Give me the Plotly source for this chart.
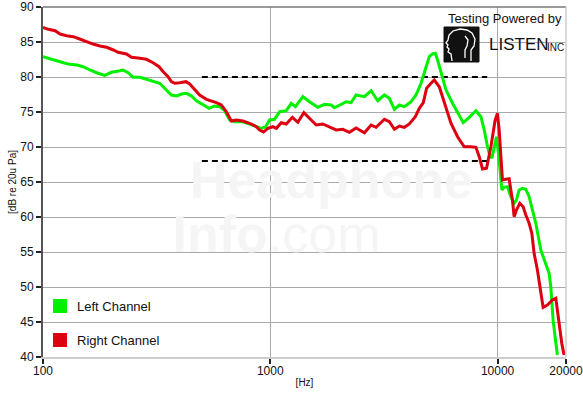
import plotly.graph_objects as go

# ---------------- data ----------------
left_freq = [100, 107, 115, 123, 131, 141, 150, 161, 172, 187, 200, 218, 225, 237, 249, 267, 285, 310, 326,
             343, 367, 387, 407, 428, 450, 473, 506, 538, 569, 599, 630, 663, 697, 758, 811, 868, 913, 954,
             993, 1044, 1099, 1176, 1237, 1291, 1391, 1488, 1618, 1732, 1853, 1916, 2050, 2157, 2268, 2386,
             2595, 2777, 2969, 3177, 3341, 3515, 3698, 3889, 4163, 4378, 4605, 4843, 5007, 5177, 5321, 5446,
             5636, 5929, 6338, 6667, 7063, 7503, 8028, 8447, 8734, 9030, 9186, 9441, 9663, 9890, 10092, 10266,
             10445, 10690, 11052, 11438, 11826, 12105, 12440, 12863, 13314, 13766, 14233, 14730, 15495, 16298,
             16852, 17145, 17320, 17549, 17906, 18328]
left_db = [82.9, 82.67, 82.33, 82.04, 81.81, 81.71, 81.47, 81.0, 80.61, 80.24, 80.67, 80.9, 81.0, 80.61, 79.96,
           79.96, 79.71, 79.39, 79.1, 78.39, 77.43, 77.29, 77.57, 77.67, 77.29, 76.61, 76.0, 75.53, 75.86, 75.76,
           75.19, 73.86, 73.61, 73.61, 73.29, 72.9, 72.67, 72.9, 73.86, 73.96, 75.04, 75.19, 76.24, 75.76, 77.19,
           76.47, 75.67, 76.1, 76.0, 75.61, 76.14, 76.47, 76.33, 77.43, 77.19, 78.04, 76.61, 77.43, 76.96, 75.39,
           76.0, 75.76, 76.47, 77.43, 79.1, 81.24, 82.9, 83.29, 83.39, 82.43, 80.53, 78.14, 76.24, 75.04, 73.47,
           74.24, 75.19, 74.33, 72.43, 70.04, 69.1, 68.39, 70.04, 71.47, 69.1, 66.24, 63.86, 64.24, 64.33, 62.9,
           61.96, 62.43, 63.86, 64.1, 63.96, 62.9, 61.0, 59.1, 55.29, 53.39, 51.96, 50.04, 47.19, 45.29, 42.9,
           40.29]

right_freq = [100, 105.5, 113, 119, 127, 136, 145, 156, 166, 178, 190.5, 204, 214, 233, 245, 267, 285, 305, 324,
              338, 355, 367, 380, 400, 425, 442, 465, 489, 523.5, 551, 579, 609, 641, 674, 709, 758, 811, 868,
              897, 934, 976, 1027, 1063, 1118, 1176, 1250, 1322, 1405, 1488, 1592, 1702, 1853, 1949, 2084, 2230,
              2386, 2595, 2777, 2921, 3177, 3341, 3515, 3698, 3889, 4091, 4346, 4527, 4713, 4872, 5093, 5266,
              5541, 5828, 6236, 6667, 7135, 7632, 8028, 8303, 8584, 8940, 9345, 9760, 9991, 10162, 10339, 10507,
              10875, 11244, 11438, 11625, 11826, 12105, 12527, 12953, 13314, 13766, 14149, 14478, 14970, 15495,
              15860, 16564, 17426, 18040, 18328, 18646, 19160, 19611]
right_db = [87.1, 86.81, 86.61, 86.14, 85.9, 85.76, 85.43, 85.0, 84.71, 84.43, 84.24, 83.86, 83.53, 83.29, 82.81,
            82.67, 82.53, 82.04, 81.47, 80.76, 80.04, 79.33, 79.1, 79.19, 79.33, 79.0, 78.14, 77.43, 76.81, 76.61,
            76.33, 76.0, 75.04, 73.71, 73.86, 73.71, 73.39, 72.9, 72.43, 72.14, 72.67, 72.9, 72.67, 73.47, 73.29,
            74.24, 73.53, 74.9, 74.1, 73.14, 73.29, 72.81, 72.43, 72.53, 72.1, 72.71, 72.04, 73.14, 72.81, 73.96,
            73.61, 72.53, 73.0, 72.81, 73.29, 74.33, 75.53, 76.33, 78.39, 79.1, 79.57, 78.61, 76.24, 73.39, 71.47,
            70.04, 70.04, 69.96, 68.61, 66.86, 66.96, 70.04, 73.86, 74.81, 72.43, 68.14, 65.29, 65.39, 65.47, 63.86,
            62.43, 60.04, 61.0, 61.96, 61.47, 60.29, 59.1, 57.67, 54.81, 52.43, 49.57, 47.1, 47.43, 48.14, 48.39,
            46.71, 44.33, 41.96, 40.29]

ref_freq = [500, 9000]
ref_upper_db = [80, 80]
ref_lower_db = [68, 68]

y_ticks = [40, 45, 50, 55, 60, 65, 70, 75, 80, 85, 90]
x_ticks = [100, 1000, 10000, 20000]
x_tick_labels = ["100", "1000", "10000", "20000"]

series_names = ["Left Channel", "Right Channel"]
GREEN = "#00f000"
RED = "#dd0011"

FONT = "Liberation Sans, Arial, sans-serif"

fig = go.Figure()

# faint watermark (drawn first so it sits under the curves)
fig.add_trace(go.Scatter(
    x=[1858, 1066], y=[64.6, 56.9], mode="text",
    text=["<b>Headphone</b>", "<b>Info</b>.com"],
    textfont=dict(family=FONT, size=52, color="#f5f5f5"),
    hoverinfo="skip", showlegend=False))

# reference dashed lines
for ydb in (ref_upper_db, ref_lower_db):
    fig.add_trace(go.Scatter(x=ref_freq, y=ydb, mode="lines",
                             line=dict(color="black", width=2, dash="6px,4px"),
                             hoverinfo="skip", showlegend=False))

fig.add_trace(go.Scatter(x=left_freq, y=left_db, mode="lines", name=series_names[0],
                         line=dict(color=GREEN, width=3), showlegend=False))
fig.add_trace(go.Scatter(x=right_freq, y=right_db, mode="lines", name=series_names[1],
                         line=dict(color=RED, width=3), showlegend=False))

W, H = 583, 395
L, R, T, B = 43, 17, 7, 38

fig.update_layout(
    width=W, height=H,
    margin=dict(l=L, r=R, t=T, b=B, autoexpand=False),
    paper_bgcolor="white", plot_bgcolor="white",
    font=dict(family=FONT, size=12, color="#111"),
    showlegend=False,
    xaxis=dict(type="log", range=[2, 4.30103], tickvals=x_ticks, ticktext=x_tick_labels,
               showgrid=True, gridcolor="#aaaaaa", gridwidth=1,
               ticks="outside", ticklen=5, tickwidth=1.5, tickcolor="#222",
               showline=True, linecolor="#cccccc", linewidth=1.5,
               zeroline=False, automargin=False, ticklabelstandoff=-3,
               ticklabeloverflow="allow",
               tickfont=dict(family=FONT, size=12, color="#111"),
               title=dict(text="[Hz]", font=dict(family=FONT, size=10, color="#111"), standoff=2)),
    yaxis=dict(range=[40, 90], tickvals=y_ticks,
               showgrid=True, gridcolor="#aaaaaa", gridwidth=1,
               ticks="outside", ticklen=5, tickwidth=1.5, tickcolor="#222",
               showline=True, linecolor="#555555", linewidth=2,
               zeroline=False, automargin=False, ticklabeloverflow="allow",
               tickfont=dict(family=FONT, size=12, color="#111"),
               title=dict(text="[dB re 20u Pa]", font=dict(family=FONT, size=10, color="#111"), standoff=2)),
)

pw = W - L - R
ph = H - T - B

def px(xp):
    return (xp - L) / pw

def py(yp):
    return (H - B - yp) / ph

shapes = []
# top and right frame
shapes.append(dict(type="line", xref="paper", yref="paper", x0=0, x1=1, y0=1, y1=1,
                   line=dict(color="#777777", width=1.5)))
shapes.append(dict(type="line", xref="paper", yref="paper", x0=1, x1=1, y0=0, y1=1,
                   line=dict(color="#cccccc", width=1.5)))
# legend squares
for (yc, col) in ((306, GREEN), (340, RED)):
    shapes.append(dict(type="rect", xref="paper", yref="paper",
                       x0=px(53), x1=px(67), y0=py(yc + 7), y1=py(yc - 7),
                       fillcolor=col, line=dict(width=0)))
# logo block
shapes.append(dict(type="rect", xref="paper", yref="paper",
                   x0=px(444), x1=px(479), y0=py(62), y1=py(27),
                   fillcolor="#111111", line=dict(color="#111111", width=1)))
# head outline inside logo
head = [(452, 61), (451, 54), (448, 52), (449, 49), (447, 47), (448, 45), (446, 43), (448, 40),
        (449, 35), (453, 31), (460, 29), (467, 30), (472, 33), (475, 39), (474, 46), (471, 50), (471, 61)]
path = "M " + " L ".join(f"{px(a):.5f},{py(b):.5f}" for a, b in head)
shapes.append(dict(type="path", xref="paper", yref="paper", path=path,
                   line=dict(color="white", width=1.3)))
ear = [(465, 36), (468, 40), (467, 46), (465, 50), (465, 58)]
path2 = "M " + " L ".join(f"{px(a):.5f},{py(b):.5f}" for a, b in ear)
shapes.append(dict(type="path", xref="paper", yref="paper", path=path2,
                   line=dict(color="white", width=1.3)))
fig.update_layout(shapes=shapes)

ann = []
for (yc, name) in ((306, series_names[0]), (340, series_names[1])):
    ann.append(dict(xref="paper", yref="paper", x=px(75), y=py(yc), xanchor="left", yanchor="middle",
                    text=name, showarrow=False, font=dict(family=FONT, size=13, color="#111")))
ann.append(dict(xref="paper", yref="paper", x=px(564), y=py(19), xanchor="right", yanchor="middle",
                text="Testing Powered by", showarrow=False, font=dict(family=FONT, size=13, color="#111")))
ann.append(dict(xref="paper", yref="paper", x=px(487), y=py(44), xanchor="left", yanchor="middle",
                text="LISTEN", showarrow=False,
                font=dict(family=FONT, size=17, color="#111")))
ann.append(dict(xref="paper", yref="paper", x=px(566), y=py(47), xanchor="right", yanchor="middle",
                text="INC", showarrow=False,
                font=dict(family=FONT, size=10, color="#111")))
fig.update_layout(annotations=ann)

fig.write_html("out.html", config={"displayModeBar": False},
               post_script="document.body.style.margin='0';")
